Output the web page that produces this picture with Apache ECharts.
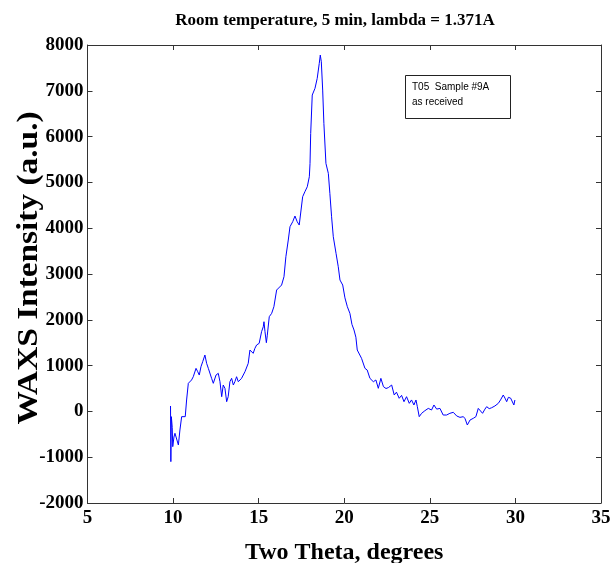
<!DOCTYPE html>
<html><head><meta charset="utf-8">
<script src="https://cdn.jsdelivr.net/npm/echarts@6/dist/echarts.min.js"></script>
<style>html,body{margin:0;padding:0;background:#fff}#c{width:613px;height:563px}</style>
</head><body><div id="c"></div>
<script>
const titleText = 'Room temperature, 5 min, lambda = 1.371A';
const xName = 'Two Theta, degrees';
const yName = 'WAXS Intensity (a.u.)';
const noteLines = ['T05  Sample #9A', 'as received'];
const xTicks = [5, 10, 15, 20, 25, 30, 35];
const yTicks = [-2000, -1000, 0, 1000, 2000, 3000, 4000, 5000, 6000, 7000, 8000];
const twoTheta = [9.85,9.87,9.90,9.95,9.98,10.05,10.11,10.21,10.31,10.40,10.50,10.60,10.71,10.79,10.89,11.08,11.18,11.34,11.44,11.53,11.63,11.73,11.86,11.96,12.06,12.16,12.25,12.35,12.51,12.64,12.74,12.84,12.93,13.03,13.13,13.22,13.32,13.42,13.52,13.61,13.71,13.81,13.91,14.00,14.10,14.20,14.29,14.39,14.49,14.59,14.68,14.78,14.88,15.03,15.17,15.27,15.31,15.37,15.45,15.50,15.62,15.76,15.89,16.05,16.15,16.34,16.48,16.59,16.73,16.83,16.99,17.12,17.25,17.37,17.45,17.57,17.70,17.84,17.96,18.00,18.04,18.13,18.29,18.42,18.54,18.60,18.66,18.74,18.81,18.93,19.07,19.16,19.26,19.36,19.52,19.65,19.75,19.91,20.04,20.18,20.33,20.45,20.57,20.68,20.76,21.01,21.21,21.34,21.50,21.70,21.85,21.99,22.14,22.29,22.44,22.58,22.77,22.92,23.05,23.21,23.35,23.49,23.64,23.80,23.93,24.07,24.19,24.27,24.38,24.52,24.71,24.91,25.10,25.24,25.40,25.59,25.78,25.98,26.17,26.37,26.57,26.76,26.96,27.06,27.19,27.35,27.54,27.69,27.83,27.93,28.08,28.22,28.32,28.47,28.61,28.80,29.00,29.13,29.29,29.39,29.49,29.59,29.72,29.83,29.91,29.97];
const intensity = [118,-1097,-115,-350,-770,-560,-478,-515,-733,-406,-115,-79,-115,249,613,686,757,940,867,794,976,1085,1231,1049,940,976,722,613,794,831,648,321,576,504,212,321,648,722,576,648,757,648,648,722,757,867,904,1049,1340,1304,1268,1377,1450,1486,1740,1849,1958,1740,1500,1650,2068,2141,2286,2650,2613,2759,2941,3377,3742,4033,4142,4266,4142,4069,4090,4688,4796,4905,5124,5415,6070,6907,7053,7271,7598,7780,7634,7016,6289,5415,5197,4761,4250,3814,3451,3159,2868,2759,2480,2286,2141,1900,1777,1620,1340,1159,940,904,722,648,686,504,722,540,500,520,576,358,420,286,350,212,321,176,250,140,249,103,-115,-42,15,66,30,140,50,66,-79,-79,-42,-20,-100,-130,-115,-160,-297,-188,-151,-115,66,80,-42,50,103,60,80,118,176,250,358,290,212,307,290,249,140,249];

const pts = twoTheta.map((x, i) => [x, intensity[i]]);
const serif = '"Liberation Serif","Times New Roman",serif';
const axisCol = '#333';
const chart = echarts.init(document.getElementById('c'), null, {renderer: 'canvas'});
const baseX = {type: 'value', min: xTicks[0], max: xTicks[xTicks.length-1], interval: 5,
  axisLine: {show: true, onZero: false, lineStyle: {color: axisCol, width: 1}},
  axisTick: {show: true, inside: true, length: 5, lineStyle: {color: axisCol}},
  splitLine: {show: false}};
const baseY = {type: 'value', min: yTicks[0], max: yTicks[yTicks.length-1], interval: 1000,
  axisLine: {show: true, onZero: false, lineStyle: {color: axisCol, width: 1}},
  axisTick: {show: true, inside: true, length: 5, lineStyle: {color: axisCol}},
  splitLine: {show: false}};
chart.setOption({
  animation: false,
  backgroundColor: '#fff',
  title: {text: titleText, left: 330, top: 7, textAlign: 'center',
    textStyle: {fontFamily: serif, fontWeight: 'bold', fontSize: 17, color: '#000'}},
  grid: {left: 87.5, right: 12, top: 45, bottom: 60, containLabel: false, outerBoundsMode: 'none'},
  xAxis: [
    Object.assign({}, baseX, {position: 'bottom', name: xName, nameLocation: 'middle', nameGap: 38,
      nameTextStyle: {fontFamily: serif, fontWeight: 'bold', fontSize: 24, color: '#000'},
      axisLabel: {show: true, margin: 6, fontFamily: serif, fontWeight: 'bold', fontSize: 19, color: '#000',
        formatter: v => String(v)}}),
    Object.assign({}, baseX, {position: 'top', axisLabel: {show: false}})
  ],
  yAxis: [
    Object.assign({}, baseY, {position: 'left',
      axisLabel: {show: true, margin: 4, fontFamily: serif, fontWeight: 'bold', fontSize: 19, color: '#000',
        formatter: v => String(v)}}),
    Object.assign({}, baseY, {position: 'right', axisLabel: {show: false}})
  ],
  series: [{type: 'line', data: pts, xAxisIndex: 0, yAxisIndex: 0, showSymbol: false,
    lineStyle: {color: '#0000ff', width: 1}, itemStyle: {color: '#0000ff'}}],
  graphic: [
    {type: 'text', x: 30, y: 268, rotation: Math.PI / 2, scaleX: 1.15, z: 11,
      style: {text: yName, font: 'bold 29px ' + serif, fill: '#000', align: 'center', verticalAlign: 'middle'}},
    {type: 'rect', left: 405, top: 75, shape: {width: 105, height: 43},
      style: {fill: '#fff', stroke: '#222', lineWidth: 1}, z: 10},
    {type: 'text', left: 412, top: 80, z: 11,
      style: {text: noteLines.join('\n'), font: '10px "Liberation Sans Narrow","Liberation Sans",Arial,sans-serif', fill: '#000', lineHeight: 15}}
  ]
});
</script></body></html>
